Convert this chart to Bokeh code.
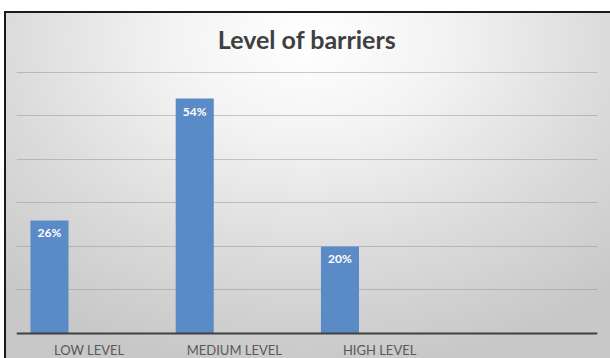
from bokeh.plotting import figure
from bokeh.models import FactorRange, Range1d, FixedTicker, Title, Span
from bokeh.transform import dodge
from bokeh.core.properties import value
from bokeh.embed import file_html
from bokeh.resources import INLINE

# Chart data
categories = ["LOW LEVEL", "MEDIUM LEVEL", "HIGH LEVEL", " "]
bar_categories = ["LOW LEVEL", "MEDIUM LEVEL", "HIGH LEVEL"]
shares = [26, 54, 20]
share_labels = ["26%", "54%", "20%"]
grid_ticks = [10, 20, 30, 40, 50, 60]

source = dict(cat=bar_categories, share=shares, label=share_labels,
              base=[0] * len(bar_categories))

# the frame runs down to the bottom edge so the category names can sit under y=0
p = figure(
    width=610, height=358,
    x_range=FactorRange(*categories),
    y_range=Range1d(-5.75, 60.23),
    output_backend="svg",
    toolbar_location=None,
    min_border_left=16, min_border_right=13,
    min_border_top=71, min_border_bottom=0,
)
p.background_fill_color = None
p.border_fill_color = None
p.outline_line_color = None
p.xaxis.visible = False
p.yaxis.visible = False
# white surround, dark frame edges on top/left and a soft radial panel fill
p.styles = {
    "position": "fixed",
    "top": "0px",
    "left": "0px",
    "background": (
        "linear-gradient(#1a1a1a, #1a1a1a) 4px 11px / 606px 2px no-repeat, "
        "linear-gradient(#1a1a1a, #1a1a1a) 4px 11px / 2px 347px no-repeat, "
        "radial-gradient(ellipse 75% 95% at 50% 8%, #ffffff 0%, #f3f3f3 30%, #dcdcdc 65%, #c8c8c8 100%) "
        "5px 11px / 605px 347px no-repeat, #ffffff"
    ),
}

# Title
p.title = Title(text="Level of barriers", align="center", text_font="Lato",
                text_font_size="25px", text_font_style="bold", text_color="#404040",
                standoff=36)

# Horizontal gridlines
p.ygrid.ticker = FixedTicker(ticks=grid_ticks)
p.ygrid.grid_line_color = "#8c8c8c"
p.ygrid.grid_line_alpha = 0.45
p.xgrid.grid_line_color = None

# Bars (first series slot of each category)
p.vbar(x=dodge("cat", -0.273, range=p.x_range), top="share", width=0.262,
       bottom=0, source=source, fill_color="#5b8bc6", line_color=None)

# Category baseline
p.add_layout(Span(location=0, dimension="width", line_color="#404040", line_width=2))

# Value labels inside the bar tops
p.text(x=dodge("cat", -0.273, range=p.x_range), y="share", text="label", source=source,
       text_color="white", text_font=value("Lato"), text_font_style="bold",
       text_font_size="12px", text_align="center", text_baseline="top", y_offset=5)

# Category names under the baseline, centred on each category slot
p.text(x="cat", y="base", text="cat", source=source, y_offset=17,
       text_align="center", text_baseline="middle",
       text_font=value("Lato"), text_font_size="13px", text_color="#595959")

open("out.html", "w").write(file_html(p, INLINE))
